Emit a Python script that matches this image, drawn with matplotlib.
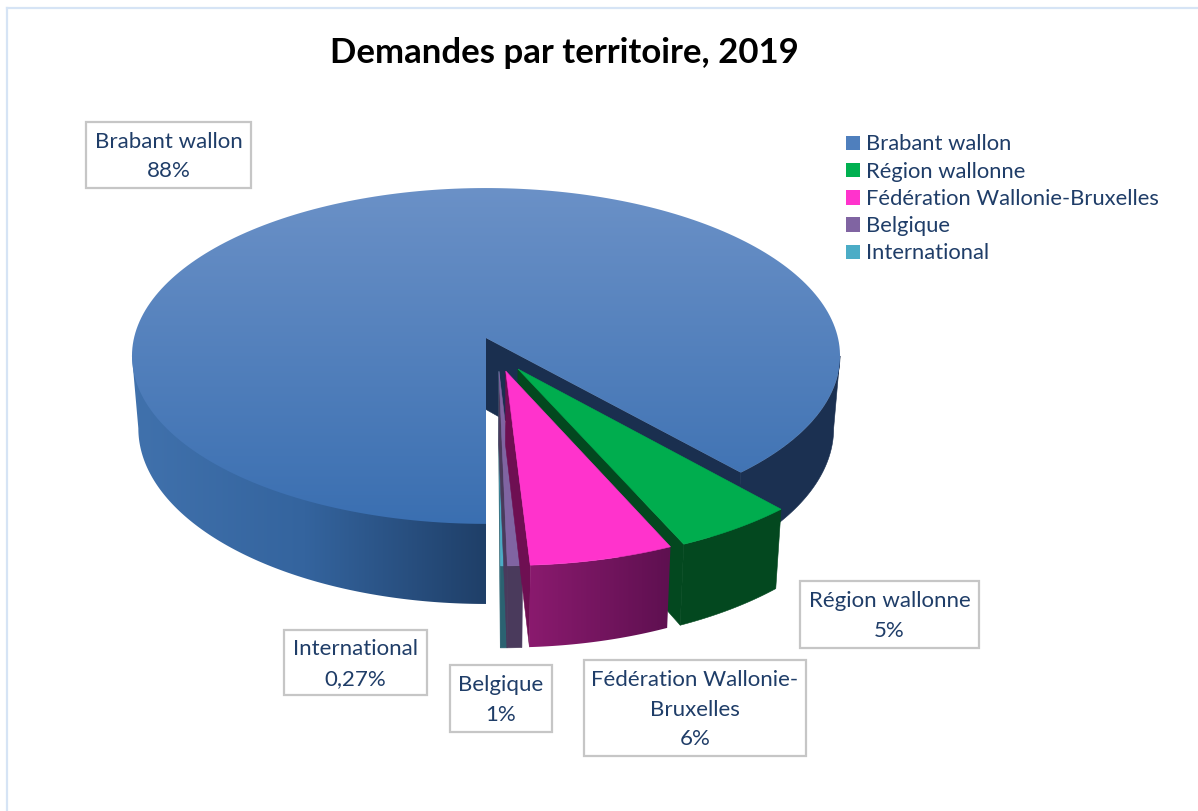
import numpy as np
import matplotlib
matplotlib.use("Agg")
import matplotlib.pyplot as plt
from matplotlib.patches import Polygon, Patch, Rectangle
from matplotlib.colors import LinearSegmentedColormap

# ---- data ----
categories = ["Brabant wallon", "Région wallonne", "Fédération Wallonie-Bruxelles", "Belgique", "International"]
values = [88.41, 4.93, 5.80, 0.60, 0.27]
value_labels = ["88%", "5%", "6%", "1%", "0,27%"]
title = "Demandes par territoire, 2019"

# ---- styles ----
FONT = "Lato"
TXT = "#1f3d68"
top_colors = ["#4a7cbc", "#00ad4e", "#ff33cc", "#8064a2", "#4bacc6"]
legend_colors = ["#4f7fbd", "#00b050", "#ff33cc", "#8064a2", "#4bacc6"]
radial_colors = ["#1a2f4f", "#03481f", "#6e0f52", "#4a3a5c", "#2b6271"]
# explosion of each slice, in disc units
explode_u = [0.0, 0.089, 0.055, 0.036, 0.036]
explode_v = [0.0, 0.183, 0.195, 0.197, 0.197]
# projection of the disc
CX, CY, A, B, K, DEPTH, SHRINK = 486, 338, 352, 166, 0.107, 71.5, 0.982
TANGENT = np.degrees(np.arccos(K))

fig = plt.figure(figsize=(11.98, 8.11), dpi=100, facecolor="white")
ax = fig.add_axes([0, 0, 1, 1])
ax.set_axis_off()


def project(u, v, bottom=False):
    w = 1 - K * v
    a = A * SHRINK if bottom else A
    return CX + a * u / w, CY + B * v / w + (DEPTH / w if bottom else 0)


def disc(theta, off, r=1.0):
    t = np.radians(theta)
    return off[0] + r * np.sin(t), off[1] + r * np.cos(t)


def arc(t0, t1, off, bottom=False, r=1.0):
    ts = np.linspace(t0, t1, 240)
    x, y = project(*disc(ts, off, r), bottom)
    return np.column_stack([x, y])


def gradient_fill(verts, stops, extent, z, vertical=False):
    cmap = LinearSegmentedColormap.from_list("g", stops)
    g = np.linspace(0, 1, 256)
    g = g[:, None] if vertical else g[None, :]
    im = ax.imshow(g, cmap=cmap, extent=extent, aspect="auto", zorder=z,
                   interpolation="bilinear", vmin=0, vmax=1, origin="upper")
    clip = Polygon(verts, closed=True, transform=ax.transData, fc="none", ec="none")
    ax.add_patch(clip)
    im.set_clip_path(clip)


def solid(verts, color, z):
    ax.add_patch(Polygon(verts, closed=True, fc=color, ec=color, lw=0.4, zorder=z))


def wall(t0, t1, off):
    return np.vstack([arc(t0, t1, off), arc(t0, t1, off, True)[::-1]])


def wall_under(t0, t1, off):
    # same wall, with its upper edge running under the top face so no seam shows
    return np.vstack([arc(t0, t0, off)[:1], arc(t0, t1, off, r=0.97), arc(t0, t1, off, True)[::-1]])


def radial_wall(theta, off):
    pts = [project(*off), project(*disc(theta, off)),
           project(*disc(theta, off), True), project(*off, True)]
    return np.array(pts)


def top_face(t0, t1, off):
    return np.vstack([[project(*off)], arc(t0, t1, off)])


# angles measured from the front of the disc, positive towards the right
fractions = np.array(values) / sum(values) * 360
ends = np.cumsum(fractions[::-1])[::-1]   # upper angle of each slice
starts = ends - fractions
offs = list(zip(explode_u, explode_v))

# Brabant wallon
off = offs[0]
theta_b = starts[0]   # right edge of the large slice
solid(radial_wall(theta_b, off), radial_colors[0], 2)
solid(wall(theta_b, TANGENT, off), "#1b3051", 3)
gradient_fill(wall_under(-TANGENT, 0, off), ["#4172ad", "#34649e", "#1f3f68"], (125, 486, 620, 200), 3)
gradient_fill(top_face(theta_b, 360, off), ["#6b91c7", "#3a6fb1"], (125, 845, 526, 186), 4, vertical=True)

# small slices, in drawing order
z = 5
for i in (1, 4, 3, 2):
    off = offs[i]
    solid(radial_wall(starts[i], off), radial_colors[i], z)
    v = wall(starts[i], ends[i], off)
    if i == 2:
        gradient_fill(v, ["#8a1a6e", "#5e1050"], (v[:, 0].min(), v[:, 0].max(), 700, 500), z + 1)
    else:
        solid(v, radial_colors[i], z + 1)
    solid(top_face(starts[i], ends[i], off), top_colors[i], z + 2)
    z += 3

ax.set_xlim(0, 1198)
ax.set_ylim(811, 0)

# outer frame
ax.plot([7, 7], [811, 8], color="#d6e4f5", lw=1.6, zorder=1)
ax.plot([7, 1198], [8, 8], color="#d6e4f5", lw=1.6, zorder=1)

# title
ax.text(564, 53, title, fontsize=25, fontweight="bold", family=FONT, color="black",
        ha="center", va="center", zorder=30)

# data labels: box (x0, y0, x1, y1), text
boxes = [(86, 122, 251, 188), (800, 581, 979, 648), (584, 660, 806, 756),
         (450, 665, 552, 732), (284, 630, 427, 695)]
names_wrapped = [categories[0], categories[1], "Fédération Wallonie-\nBruxelles", categories[3], categories[4]]
for box, name, val in zip(boxes, names_wrapped, value_labels):
    x0, y0, x1, y1 = box
    ax.add_patch(Rectangle((x0, y0), x1 - x0, y1 - y0, fc="white", ec="#c6c6c6", lw=1.6, zorder=20))
    ax.text((x0 + x1) / 2, (y0 + y1) / 2 + 1.5, f"{name}\n{val}", fontsize=16, family=FONT, color=TXT,
            ha="center", va="center", linespacing=1.58, zorder=21)

# legend
handles = [Patch(fc=c, ec="none") for c in legend_colors]
leg = ax.legend(handles, categories, loc="upper left", bbox_to_anchor=(846, 134.5),
                bbox_transform=ax.transData, frameon=False, borderpad=0, borderaxespad=0,
                prop={"family": FONT, "size": 15.8}, labelcolor=TXT, handlelength=0.64,
                handleheight=0.64, handletextpad=0.27, labelspacing=0.33)
leg.set_zorder(25)

fig.savefig("out.png", dpi=100, facecolor="white")
